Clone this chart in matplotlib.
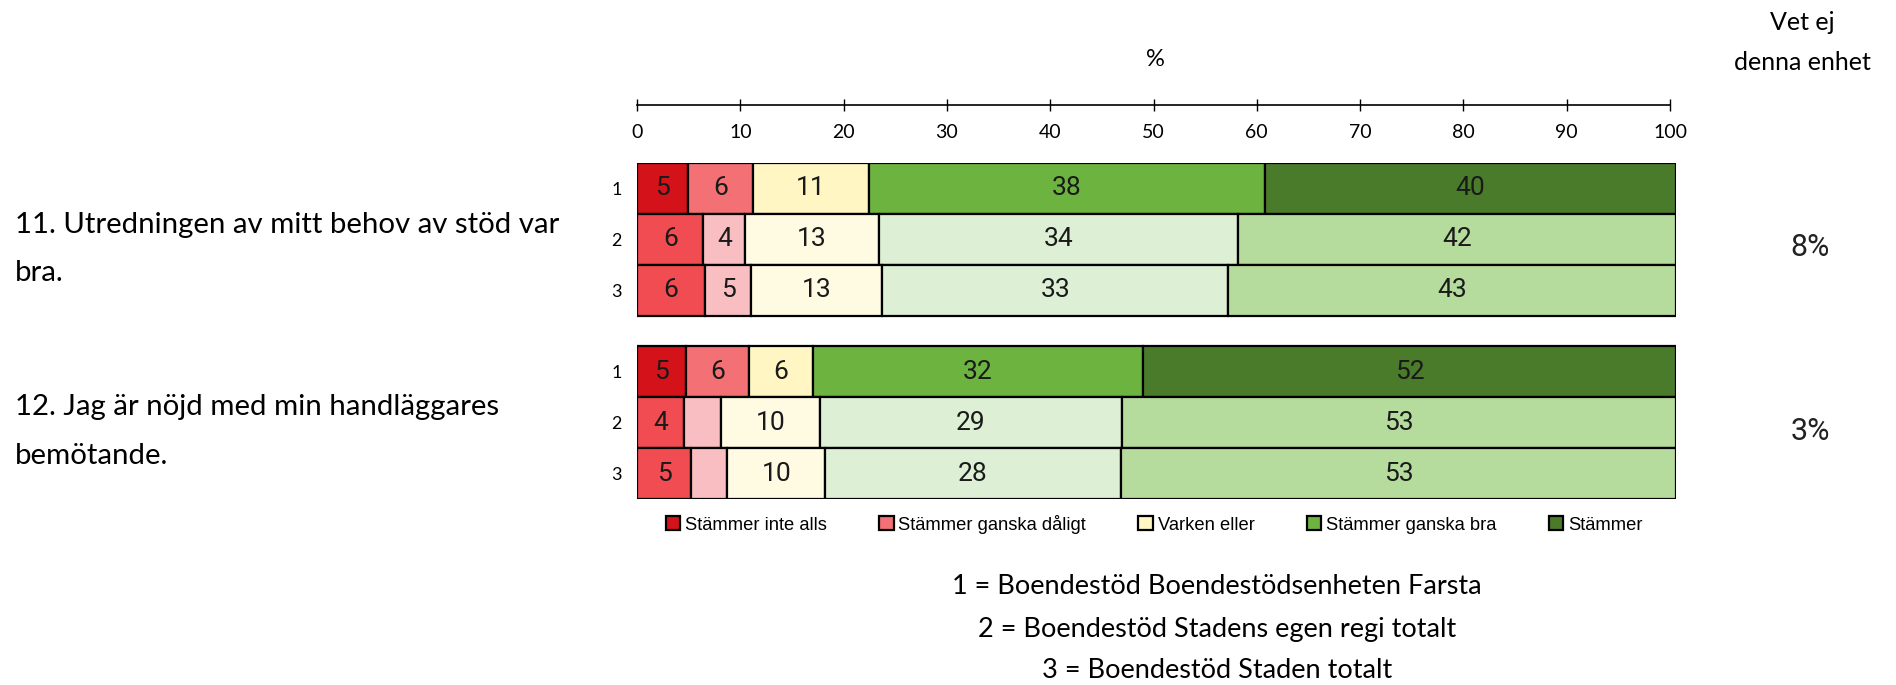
import matplotlib
matplotlib.use("Agg")
import matplotlib.pyplot as plt
from matplotlib.patches import Patch
from matplotlib import font_manager

# ---------------- data ----------------
categories = ["Stämmer inte alls", "Stämmer ganska dåligt", "Varken eller",
              "Stämmer ganska bra", "Stämmer"]
questions = ["11. Utredningen av mitt behov av stöd var\nbra.",
             "12. Jag är nöjd med min handläggares\nbemötande."]
row_labels = ["1", "2", "3"]
dont_know = ["8%", "3%"]

q11_values = [[4.9, 6.3, 11.1, 38.1, 39.6],
              [6.4, 4.0, 12.9, 34.5, 42.2],
              [6.5, 4.5, 12.6, 33.3, 43.1]]
q11_labels = [["5", "6", "11", "38", "40"],
              ["6", "4", "13", "34", "42"],
              ["6", "5", "13", "33", "43"]]
q12_values = [[4.7, 6.1, 6.1, 31.8, 51.3],
              [4.5, 3.6, 9.5, 29.1, 53.3],
              [5.2, 3.5, 9.4, 28.5, 53.4]]
q12_labels = [["5", "6", "6", "32", "52"],
              ["4", "", "10", "29", "53"],
              ["5", "", "10", "28", "53"]]

footnotes = ["1 = Boendestöd Boendestödsenheten Farsta",
             "2 = Boendestöd Stadens egen regi totalt",
             "3 = Boendestöd Staden totalt"]
ticks = [0, 10, 20, 30, 40, 50, 60, 70, 80, 90, 100]

# ---------------- style ----------------
unit_colors = ["#D41219", "#F37175", "#FFF6C4", "#6DB33F", "#4A7B2B"]
comp_colors = ["#F04C51", "#F9BEC1", "#FFFAE2", "#DDEFD4", "#B6DC9D"]

available = {f.name for f in font_manager.fontManager.ttflist}
MAIN = ["Lato", "DejaVu Sans"]
NUM = ["Roboto", "DejaVu Sans"]
LEG = ["Liberation Sans Narrow", "Liberation Sans", "DejaVu Sans"]
LEG = [f for f in LEG if f in available] or ["DejaVu Sans"]

W, H = 1896, 685
fig = plt.figure(figsize=(W / 100, H / 100), dpi=100)

def fx(px):
    return px / W

def fy(py):
    return 1 - py / H

# bars axes
left_px, right_px, top_px, bot_px = 637, 1676, 163, 499
ax = fig.add_axes([fx(left_px), fy(bot_px), fx(right_px - left_px), (bot_px - top_px) / H])

gap = 0.6
groups = [(q11_values, q11_labels), (q12_values, q12_labels)]
ypos_all = []
for g, (vals, labs) in enumerate(groups):
    for r in range(3):
        y = g * (3 + gap) + r
        ypos_all.append(y)
        colors = unit_colors if r == 0 else comp_colors
        left = 0.0
        for k, v in enumerate(vals[r]):
            ax.barh(y, v, left=left, height=1.0, color=colors[k],
                    edgecolor="black", linewidth=1.6)
            if labs[r][k]:
                ax.text(left + v / 2, y, labs[r][k], ha="center", va="center",
                        fontsize=19, family=NUM, color="#1a1a1a")
            left += v

ax.set_xlim(0, 100)
ax.set_ylim(2 * 3 + gap - 0.5, -0.5)
ax.set_xticks([])
ax.set_yticks(ypos_all)
ax.set_yticklabels(row_labels * 2, family=MAIN, fontsize=13)
ax.tick_params(axis="y", length=0, pad=11)
for s in ax.spines.values():
    s.set_visible(False)

# scale axis on top
sax = fig.add_axes([fx(637), fy(105), fx(1670 - 637), 0.0001])
sax.set_xlim(0, 100)
sax.set_xticks(ticks)
sax.set_xticklabels([str(t) for t in ticks], family=MAIN, fontsize=14)
sax.set_yticks([])
sax.tick_params(axis="x", direction="inout", length=9, width=1, pad=9)
for name, s in sax.spines.items():
    s.set_visible(name == "bottom")
sax.spines["bottom"].set_linewidth(1.2)
sax.patch.set_visible(False)

fig.text(fx(1155), fy(60), "%", ha="center", va="center", family=MAIN, fontsize=17)

# question labels
q_y = [(225, 273), (407, 456)]
for q, (y1, y2) in zip(questions, q_y):
    l1, l2 = q.split("\n")
    fig.text(fx(15), fy(y1), l1, ha="left", va="center", family=MAIN, fontsize=21.2)
    fig.text(fx(15), fy(y2), l2, ha="left", va="center", family=MAIN, fontsize=21.2)

# right column
fig.text(fx(1802), fy(22), "Vet ej", ha="center", va="center", family=MAIN, fontsize=18)
fig.text(fx(1802), fy(63), "denna enhet", ha="center", va="center", family=MAIN, fontsize=18)
for txt, y in zip(dont_know, [247, 432]):
    fig.text(fx(1810), fy(y), txt, ha="center", va="center", family=NUM,
             fontsize=22, color="#222222")

# legend
handles = [Patch(facecolor=c, edgecolor="black", linewidth=1.6) for c in unit_colors]
leg = fig.legend(handles, categories, loc="center", ncol=5,
                 bbox_to_anchor=(fx(1154), fy(524)), frameon=False,
                 prop={"family": LEG, "size": 13.2},
                 handlelength=0.8, handleheight=0.8, handletextpad=0.25,
                 columnspacing=2.85, borderaxespad=0)

# footnotes
for txt, y in zip(footnotes, [586, 630, 671]):
    fig.text(fx(1217), fy(y), txt, ha="center", va="center", family=MAIN, fontsize=19.5)

fig.savefig("out.png", dpi=100)
